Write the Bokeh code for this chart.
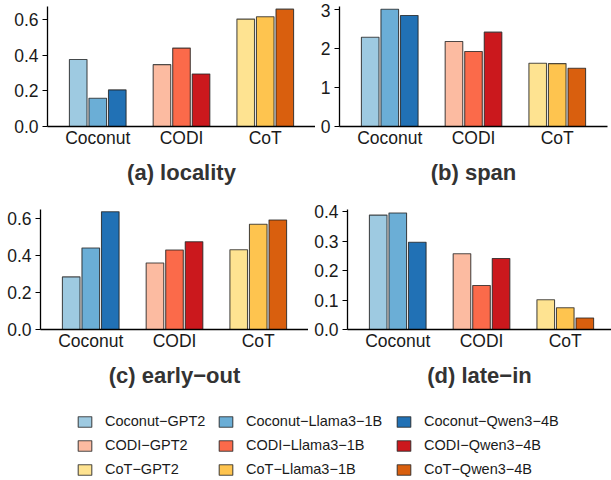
from bokeh.plotting import figure
from bokeh.models import Range1d, FixedTicker, Legend, LegendItem, ColumnDataSource, NumeralTickFormatter
from bokeh.layouts import column, row
from bokeh.embed import file_html
from bokeh.resources import INLINE

# ---------------- data ----------------
methods = ["Coconut", "CODI", "CoT"]
models = ["GPT2", "Llama3\u22121B", "Qwen3\u22124B"]

coconut_colors = ["#9ecae1", "#6baed6", "#2171b5"]
codi_colors = ["#fcbba1", "#fb6a4a", "#cb181d"]
cot_colors = ["#fee391", "#fec44f", "#d95f0e"]

# values per method: [GPT2, Llama3-1B, Qwen3-4B]
locality_coconut = [0.377, 0.159, 0.206]
locality_codi = [0.348, 0.441, 0.295]
locality_cot = [0.604, 0.617, 0.660]

span_coconut = [2.30, 3.02, 2.86]
span_codi = [2.19, 1.93, 2.43]
span_cot = [1.63, 1.62, 1.50]

early_out_coconut = [0.284, 0.440, 0.636]
early_out_codi = [0.359, 0.429, 0.474]
early_out_cot = [0.431, 0.568, 0.591]

late_in_coconut = [0.388, 0.395, 0.296]
late_in_codi = [0.257, 0.149, 0.241]
late_in_cot = [0.101, 0.074, 0.039]

locality_ticks = [0.0, 0.2, 0.4, 0.6]
span_ticks = [0, 1, 2, 3]
early_out_ticks = [0.0, 0.2, 0.4, 0.6]
late_in_ticks = [0.0, 0.1, 0.2, 0.3, 0.4]

# ---------------- style ----------------
FONT = "Liberation Sans"
TICK_SIZE = "17.5px"
TITLE_SIZE = "22px"
TEXT_COLOR = "#1a1a1a"
TITLE_COLOR = "#333333"
DODGE = 0.2333
BAR_W = 0.21
OUTLINE = "#222222"
method_colors = [coconut_colors, codi_colors, cot_colors]


def make_panel(series, title, width, height, borders, y_end, ticks, fmt, x_end):
    left, right, top, bottom = borders
    xs, tops, cols = [], [], []
    for gi, vals in enumerate(series):
        for mi, v in enumerate(vals):
            xs.append(gi + 1 + (mi - 1) * DODGE)
            tops.append(v)
            cols.append(method_colors[gi][mi])
    src = ColumnDataSource(dict(x=xs, top=tops, color=cols))
    p = figure(width=width, height=height, output_backend="svg", toolbar_location=None,
               x_range=Range1d(0.4, x_end), y_range=Range1d(0, y_end),
               min_border_left=left, min_border_right=right,
               min_border_top=top, min_border_bottom=bottom)
    p.vbar(x="x", top="top", width=BAR_W, source=src, fill_color="color",
           line_color=OUTLINE, line_alpha=0.8, line_width=1.1)
    p.grid.visible = False
    p.outline_line_color = None
    p.background_fill_color = "white"
    p.border_fill_color = "white"

    xa = p.xaxis[0]
    xa.ticker = FixedTicker(ticks=[1, 2, 3])
    xa.major_label_overrides = {1: methods[0], 2: methods[1], 3: methods[2]}
    xa.major_tick_out = 0
    xa.major_tick_in = 0
    xa.minor_tick_out = 0
    xa.minor_tick_in = 0
    xa.major_label_standoff = 1
    xa.major_label_text_font = FONT
    xa.major_label_text_font_size = TICK_SIZE
    xa.major_label_text_color = TEXT_COLOR
    xa.axis_line_color = "black"
    xa.axis_line_width = 1.3
    xa.axis_label = title
    xa.axis_label_text_font = FONT
    xa.axis_label_text_font_size = TITLE_SIZE
    xa.axis_label_text_font_style = "bold"
    xa.axis_label_text_color = TITLE_COLOR
    xa.axis_label_standoff = 9

    ya = p.yaxis[0]
    ya.ticker = FixedTicker(ticks=ticks)
    ya.formatter = NumeralTickFormatter(format=fmt)
    ya.major_tick_out = 5
    ya.major_tick_in = 0
    ya.minor_tick_out = 0
    ya.minor_tick_in = 0
    ya.major_tick_line_color = "black"
    ya.major_tick_line_width = 1.2
    ya.major_label_standoff = 4
    ya.major_label_text_font = FONT
    ya.major_label_text_font_size = TICK_SIZE
    ya.major_label_text_color = TEXT_COLOR
    ya.axis_line_color = "black"
    ya.axis_line_width = 1.3
    return p


pa = make_panel([locality_coconut, locality_codi, locality_cot], "(a) locality",
                315, 200, (47, 0, 6, 74), 0.675, locality_ticks, "0.0", 3.6)
pb = make_panel([span_coconut, span_codi, span_cot], "(b) span",
                296, 200, (24, 4, 6, 74), 3.09, span_ticks, "0", 3.6)
pc = make_panel([early_out_coconut, early_out_codi, early_out_cot], "(c) early\u2212out",
                308, 195, (40, 0, 9, 66), 0.648, early_out_ticks, "0.0", 3.6)
pd = make_panel([late_in_coconut, late_in_codi, late_in_cot], "(d) late\u2212in",
                303, 195, (39, 0, 9, 66), 0.407, late_in_ticks, "0.0", 3.552)

# ---------------- legend ----------------
pl = figure(width=611, height=85, output_backend="svg", toolbar_location=None,
            x_range=Range1d(0, 1), y_range=Range1d(0, 1),
            x_axis_type=None, y_axis_type=None,
            min_border_left=0, min_border_right=0, min_border_top=0, min_border_bottom=0)
pl.grid.visible = False
pl.outline_line_color = None

col_x = [76, 217, 395]
for mi in range(3):
    items = []
    for gi in range(3):
        # bar placed outside the visible range: only its legend swatch is shown
        r = pl.vbar(x=[-10], top=[0], width=0.1, fill_color=method_colors[gi][mi],
                    line_color=OUTLINE, line_alpha=0.8, line_width=1.1)
        items.append(LegendItem(label=f"{methods[gi]}\u2212{models[mi]}", renderers=[r]))
    lg = Legend(items=items, location=(col_x[mi], 3), orientation="vertical",
                padding=0, margin=0, spacing=8, border_line_color=None,
                background_fill_alpha=0,
                glyph_width=17, glyph_height=13, label_height=13,
                label_standoff=12, label_text_font=FONT,
                label_text_font_size="14.5px", label_text_color=TEXT_COLOR)
    pl.add_layout(lg, "center")

layout = column(row(pa, pb), row(pc, pd), pl)
open("out.html", "w").write(file_html(layout, INLINE))
